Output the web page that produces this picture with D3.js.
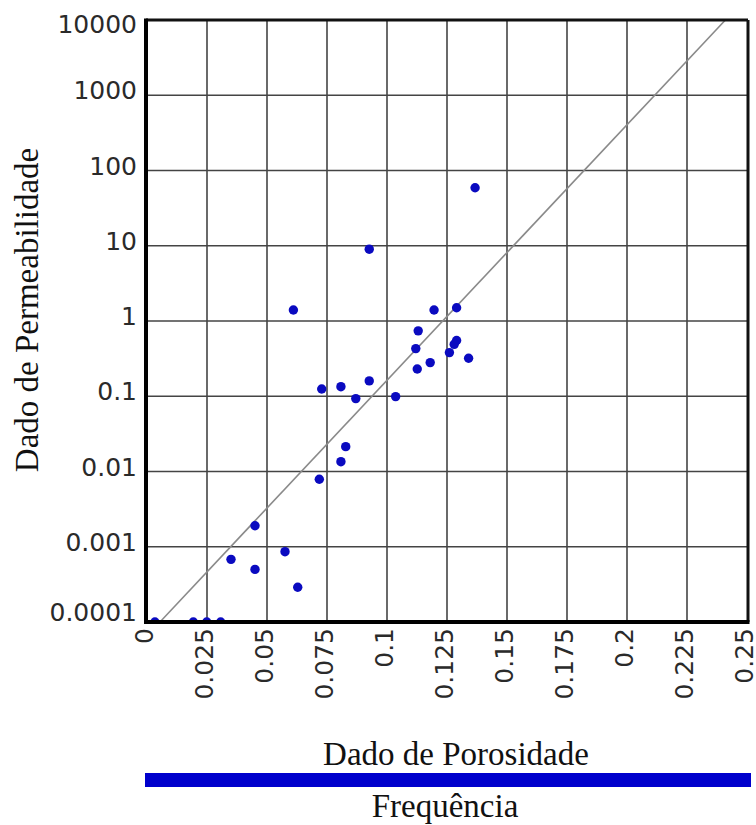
<!DOCTYPE html>
<html>
<head>
<meta charset="utf-8">
<script src="https://cdn.jsdelivr.net/npm/d3@7"></script>
<style>
  html, body { margin: 0; padding: 0; background: #fff; }
  svg { display: block; }
</style>
</head>
<body>
<script>
// ---- data ----
const porosity = [0.061, 0.1196, 0.129, 0.113, 0.112, 0.129, 0.128, 0.126, 0.134, 0.118, 0.1126,
  0.0926, 0.0728, 0.0808, 0.087, 0.1036, 0.0828, 0.0808, 0.0718, 0.045, 0.0575, 0.035, 0.045,
  0.0628, 0.1367, 0.0926, 0.0033, 0.0193, 0.0249, 0.0307];
const permeability = [1.4, 1.4, 1.5, 0.74, 0.43, 0.55, 0.49, 0.38, 0.32, 0.28, 0.23,
  0.16, 0.125, 0.134, 0.093, 0.099, 0.0214, 0.0135, 0.0079, 0.0019, 0.00086, 0.00068, 0.0005,
  0.00029, 59, 9.0, 0.0001, 0.0001, 0.0001, 0.0001];
const trendX = [0.0054, 0.241];
const trendY = [0.0001, 10000];
const xTicks = [0, 0.025, 0.05, 0.075, 0.1, 0.125, 0.15, 0.175, 0.2, 0.225, 0.25];
const yTicks = [0.0001, 0.001, 0.01, 0.1, 1, 10, 100, 1000, 10000];
const yTickLabels = ["0.0001", "0.001", "0.01", "0.1", "1", "10", "100", "1000", "10000"];
const xTitle = "Dado de Porosidade";
const yTitle = "Dado de Permeabilidade";
const legendLabel = "Frequência";

// ---- layout ----
const W = 756, H = 825;
const svg = d3.select("body").append("svg").attr("width", W).attr("height", H);

const x = d3.scaleLinear().domain([0, 0.25]).range([147, 747]);
const y = d3.scaleLog().domain([0.0001, 10000]).range([622, 20]);

const plotL = x(0) - 1, plotR = x(0.25) + 1, plotT = y(10000), plotB = y(0.0001);

// clip
svg.append("defs").append("clipPath").attr("id", "clip")
  .append("rect").attr("x", plotL).attr("y", plotT).attr("width", plotR - plotL).attr("height", plotB - plotT);

// grid
const grid = svg.append("g");
grid.selectAll("line.vx").data(xTicks.slice(1, -1)).join("line")
  .attr("x1", d => x(d)).attr("x2", d => x(d)).attr("y1", plotT).attr("y2", plotB)
  .attr("stroke", "#444").attr("stroke-width", 1.6);
grid.selectAll("line.hy").data(yTicks.slice(1, -1)).join("line")
  .attr("x1", plotL).attr("x2", plotR).attr("y1", d => y(d)).attr("y2", d => y(d))
  .attr("stroke", "#444").attr("stroke-width", 1.6);

// trend line
svg.append("line")
  .attr("x1", x(trendX[0])).attr("y1", y(trendY[0]))
  .attr("x2", x(trendX[1])).attr("y2", y(trendY[1]))
  .attr("stroke", "#8a8a8a").attr("stroke-width", 1.6);

// points
const pts = porosity.map((p, i) => ({ p, k: permeability[i] }));
svg.append("g").attr("clip-path", "url(#clip)")
  .selectAll("circle").data(pts).join("circle")
  .attr("cx", d => x(d.p)).attr("cy", d => y(d.k)).attr("r", 4.7)
  .attr("fill", "#0a0ac0");

// frame
svg.append("line").attr("x1", plotL).attr("x2", plotR).attr("y1", plotT).attr("y2", plotT)
  .attr("stroke", "#111").attr("stroke-width", 3);
svg.append("line").attr("x1", plotR).attr("x2", plotR).attr("y1", plotT).attr("y2", plotB)
  .attr("stroke", "#111").attr("stroke-width", 3);
svg.append("line").attr("x1", plotL).attr("x2", plotL).attr("y1", plotT - 1.5).attr("y2", plotB + 2)
  .attr("stroke", "#000").attr("stroke-width", 4);
svg.append("line").attr("x1", plotL - 2).attr("x2", plotR + 1.5).attr("y1", plotB).attr("y2", plotB)
  .attr("stroke", "#000").attr("stroke-width", 4);

// y tick labels
svg.append("g").selectAll("text").data(yTicks).join("text")
  .attr("x", 137)
  .attr("y", d => Math.min(Math.max(y(d) - 5, plotT + 4), plotB - 10))
  .attr("dy", "0.36em")
  .attr("text-anchor", "end")
  .attr("font-family", "DejaVu Sans")
  .attr("font-size", 25)
  .attr("fill", "#2a2a2a")
  .text((d, i) => yTickLabels[i]);

// x tick labels (rotated)
svg.append("g").selectAll("text").data(xTicks).join("text")
  .attr("transform", d => `translate(${x(d)},${plotB}) rotate(-90)`)
  .attr("x", -6)
  .attr("dy", "0.22em")
  .attr("text-anchor", "end")
  .attr("font-family", "DejaVu Sans")
  .attr("font-size", 25)
  .attr("fill", "#2a2a2a")
  .text(d => d3.format("")(d));

// axis titles
svg.append("text")
  .attr("x", 456).attr("y", 765)
  .attr("text-anchor", "middle")
  .attr("font-family", "Liberation Serif")
  .attr("font-size", 33)
  .attr("fill", "#111")
  .text(xTitle);

svg.append("text")
  .attr("transform", "translate(38,310) rotate(-90)")
  .attr("text-anchor", "middle")
  .attr("font-family", "Liberation Serif")
  .attr("font-size", 33)
  .attr("fill", "#111")
  .text(yTitle);

// legend bar
svg.append("rect")
  .attr("x", plotL - 1).attr("y", 773).attr("width", 751 - (plotL - 1)).attr("height", 14)
  .attr("fill", "#0000cc");
svg.append("text")
  .attr("x", 445).attr("y", 817)
  .attr("text-anchor", "middle")
  .attr("font-family", "Liberation Serif")
  .attr("font-size", 33)
  .attr("fill", "#111")
  .text(legendLabel);
</script>
</body>
</html>
